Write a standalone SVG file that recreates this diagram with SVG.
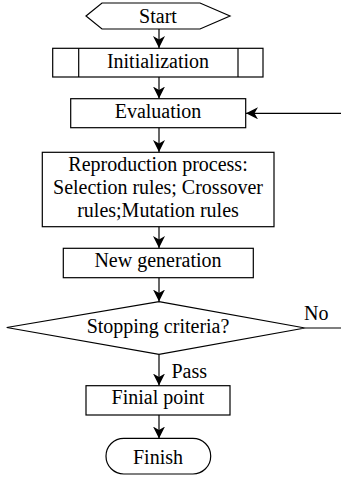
<svg xmlns="http://www.w3.org/2000/svg" width="341" height="477" viewBox="0 0 341 477">
<defs>
<style>
.s{fill:#fff;stroke:#000;stroke-width:1.2}
text{font-family:'Liberation Serif','Times New Roman','DejaVu Serif',serif;font-size:20px;fill:#000}
.t{text-anchor:middle}
.c{fill:none;stroke:#000;stroke-width:1.2}
</style>
<marker id="ah" viewBox="0 0 12 12" refX="12" refY="6" markerWidth="12" markerHeight="12" markerUnits="userSpaceOnUse" orient="auto">
<path d="M0,0 L12,6 L0,12 L3.5,6 z" fill="#000"/>
</marker>
</defs>
<rect width="341" height="477" fill="#fff"/>
<g id="connectors">
<line class="c" x1="159" y1="29" x2="159" y2="48" marker-end="url(#ah)"/>
<line class="c" x1="159" y1="77" x2="159" y2="98.5" marker-end="url(#ah)"/>
<line class="c" x1="341" y1="113.3" x2="246" y2="113.3" marker-end="url(#ah)"/>
<line class="c" x1="159" y1="128" x2="159" y2="152" marker-end="url(#ah)"/>
<line class="c" x1="159" y1="227" x2="159" y2="248" marker-end="url(#ah)"/>
<line class="c" x1="159" y1="278" x2="159" y2="301.5" marker-end="url(#ah)"/>
<line class="c" x1="305" y1="328" x2="341" y2="328"/>
<text x="304" y="320">No</text>
<line class="c" x1="159" y1="354.5" x2="159" y2="385.5" marker-end="url(#ah)"/>
<text x="171.5" y="377.5">Pass</text>
<line class="c" x1="159" y1="415" x2="159" y2="438.5" marker-end="url(#ah)"/>
</g>
<g id="start">
<polygon class="s" points="86,16 102,3 200,3 230,16 200,29 102,29"/>
<text class="t" x="158" y="22.7">Start</text>
</g>
<g id="initialization">
<rect class="s" x="52.7" y="48.3" width="210.3" height="28.7"/>
<line class="c" x1="78.7" y1="48.3" x2="78.7" y2="77"/>
<line class="c" x1="238" y1="48.3" x2="238" y2="77"/>
<text class="t" x="158" y="67.7">Initialization</text>
</g>
<g id="evaluation">
<rect class="s" x="70.7" y="98.7" width="175" height="29"/>
<text class="t" x="158" y="117.7">Evaluation</text>
</g>
<g id="reproduction">
<rect class="s" x="42.3" y="152.3" width="231.7" height="74.4"/>
<text class="t" x="158" y="171">Reproduction process:</text>
<text class="t" x="158" y="194.3">Selection rules; Crossover</text>
<text class="t" x="158" y="216.7">rules;Mutation rules</text>
</g>
<g id="new-generation">
<rect class="s" x="63.3" y="248.3" width="190" height="29.4"/>
<text class="t" x="158" y="267.3">New generation</text>
</g>
<g id="stopping">
<polygon class="s" points="159,301.7 305,328 159,354.3 6.7,327.5"/>
<text class="t" x="158" y="333">Stopping criteria?</text>
</g>
<g id="final-point">
<rect class="s" x="86" y="385.7" width="144" height="29.3"/>
<text class="t" x="158" y="404.3">Finial point</text>
</g>
<g id="finish">
<rect class="s" x="106" y="438.3" width="104.7" height="35.7" rx="17.8" ry="17.8"/>
<text class="t" x="158" y="464">Finish</text>
</g>
</svg>
